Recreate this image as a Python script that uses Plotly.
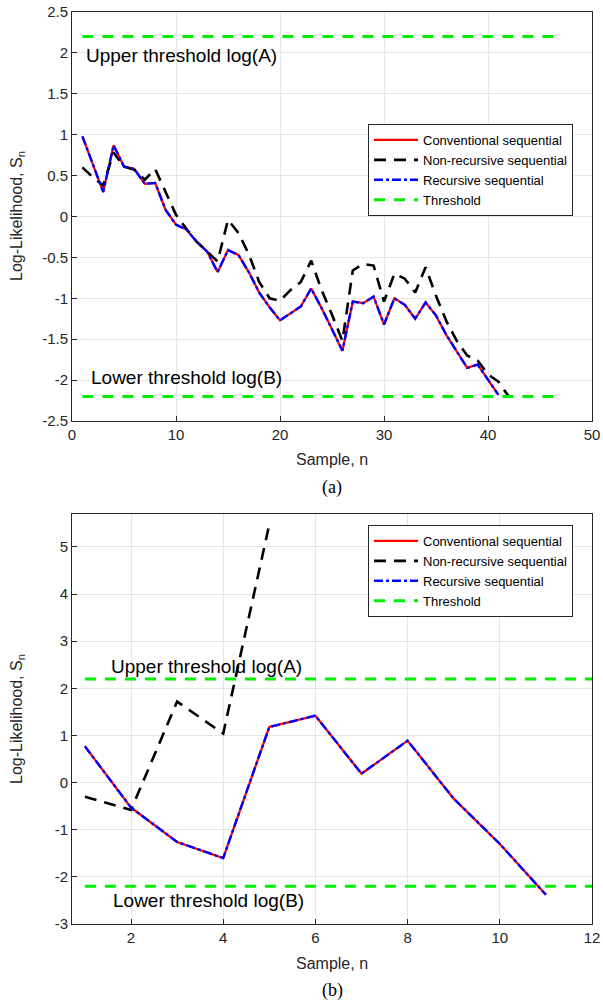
import plotly.graph_objects as go

# ---------------- data ----------------
# (a) top panel
n_a = list(range(1, 42))
conv_a = [0.98, 0.63, 0.30, 0.87, 0.61, 0.58, 0.40, 0.41, 0.08, -0.10,
          -0.16, -0.31, -0.43, -0.68, -0.41, -0.47, -0.68, -0.93, -1.11, -1.27,
          -1.18, -1.10, -0.88, -1.12, -1.38, -1.64, -1.04, -1.06, -0.98, -1.32,
          -1.00, -1.08, -1.25, -1.05, -1.21, -1.45, -1.65, -1.85, -1.81, -1.99,
          -2.18]
rec_a = list(conv_a)
n_nonrec_a = list(range(1, 43))
nonrec_a = [0.60, 0.48, 0.38, 0.78, 0.61, 0.57, 0.45, 0.58, 0.30, 0.02,
            -0.15, -0.31, -0.43, -0.55, -0.04, -0.20, -0.46, -0.80, -1.00, -1.03,
            -0.90, -0.80, -0.54, -0.90, -1.20, -1.52, -0.66, -0.58, -0.60, -1.04,
            -0.70, -0.76, -0.93, -0.62, -0.97, -1.28, -1.52, -1.70, -1.76, -1.93,
            -2.02, -2.20]
thr_x_a = [1, 47]

# (b) bottom panel
n_b = list(range(1, 12))
conv_b = [0.77, -0.53, -1.26, -1.60, 1.18, 1.42, 0.19, 0.89, -0.34, -1.30, -2.38]
rec_b = list(conv_b)
n_nonrec_b = [1, 2, 3, 4, 5]
nonrec_b = [-0.30, -0.58, 1.72, 1.04, 5.48]
thr_x_b = [1, 12]

upper_thr = 2.2
lower_thr = -2.2

names = ["Conventional sequential", "Non-recursive sequential",
         "Recursive sequential", "Threshold"]

xticks_a = [0, 10, 20, 30, 40, 50]
yticks_a = [-2.5, -2, -1.5, -1, -0.5, 0, 0.5, 1, 1.5, 2, 2.5]
ytext_a = ["-2.5", "-2", "-1.5", "-1", "-0.5", "0", "0.5", "1", "1.5", "2", "2.5"]
xticks_b = [2, 4, 6, 8, 10, 12]
yticks_b = [-3, -2, -1, 0, 1, 2, 3, 4, 5]
ytext_b = ["-3", "-2", "-1", "0", "1", "2", "3", "4", "5"]

# ---------------- figure ----------------
W, H = 603, 1004
FONT = "Liberation Sans, Arial, sans-serif"
TXT = "#262626"

fig = go.Figure()


def add_panel(xa, ya, legend, nx, conv, nnr, nonrec, rec, thrx):
    fig.add_trace(go.Scatter(x=nx, y=conv, mode="lines", name=names[0],
                             line=dict(color="#ff0000", width=2.2),
                             xaxis=xa, yaxis=ya, legend=legend))
    fig.add_trace(go.Scatter(x=nnr, y=nonrec, mode="lines", name=names[1],
                             line=dict(color="#000000", width=2.6, dash="12px,8px"),
                             xaxis=xa, yaxis=ya, legend=legend))
    fig.add_trace(go.Scatter(x=nx, y=rec, mode="lines", name=names[2],
                             line=dict(color="#0000ff", width=2.4, dash="9px,3px,3px,3px"),
                             xaxis=xa, yaxis=ya, legend=legend))
    fig.add_trace(go.Scatter(x=[thrx[0], thrx[1], None, thrx[0], thrx[1]],
                             y=[upper_thr, upper_thr, None, lower_thr, lower_thr],
                             mode="lines", name=names[3],
                             line=dict(color="#00ee00", width=3, dash="11px,9px"),
                             xaxis=xa, yaxis=ya, legend=legend))


add_panel("x", "y", "legend", n_a, conv_a, n_nonrec_a, nonrec_a, rec_a, thr_x_a)
add_panel("x2", "y2", "legend2", n_b, conv_b, n_nonrec_b, nonrec_b, rec_b, thr_x_b)

xdom = [72 / W, 592 / W]
ydom_a = [1 - 421 / H, 1 - 12 / H]
ydom_b = [1 - 924 / H, 1 - 514 / H]

axis_common = dict(showline=True, mirror=True, linecolor=TXT, linewidth=1,
                   ticks="inside", ticklen=5, tickcolor=TXT,
                   showgrid=True, gridcolor="#e6e6e6", gridwidth=1,
                   zeroline=False, automargin=False,
                   tickfont=dict(family=FONT, size=15, color=TXT))

legend_common = dict(bgcolor="white", bordercolor=TXT, borderwidth=1,
                     font=dict(family=FONT, size=13, color="#000000"),
                     xanchor="right", yanchor="top", tracegroupgap=0,
                     itemwidth=44)

fig.update_layout(
    width=W, height=H,
    margin=dict(l=0, r=0, t=0, b=0),
    paper_bgcolor="white", plot_bgcolor="white",
    font=dict(family=FONT, size=15, color=TXT),
    xaxis=dict(domain=xdom, range=[0, 50], tickvals=xticks_a, anchor="y", **axis_common),
    yaxis=dict(domain=ydom_a, range=[-2.5, 2.5], tickvals=yticks_a, ticktext=ytext_a,
               anchor="x", **axis_common),
    xaxis2=dict(domain=xdom, range=[0.72, 12], tickvals=xticks_b, anchor="y2", **axis_common),
    yaxis2=dict(domain=ydom_b, range=[-3.0, 5.7], tickvals=yticks_b, ticktext=ytext_b,
                anchor="x2", **axis_common),
    legend=dict(x=573 / W, y=1 - 124 / H, **legend_common),
    legend2=dict(x=573 / W, y=1 - 525 / H, **legend_common),
)

ann_font = dict(family=FONT, size=19, color="#000000")
annotations = [
    # threshold labels (panel a)
    dict(x=1.2, y=1.97, xref="x", yref="y", text="Upper threshold log(A)",
         showarrow=False, xanchor="left", yanchor="middle", font=ann_font),
    dict(x=1.6, y=-1.97, xref="x", yref="y", text="Lower threshold log(B)",
         showarrow=False, xanchor="left", yanchor="middle", font=ann_font),
    # threshold labels (panel b)
    dict(x=1.52, y=2.46, xref="x2", yref="y2", text="Upper threshold log(A)",
         showarrow=False, xanchor="left", yanchor="middle", font=ann_font),
    dict(x=1.56, y=-2.51, xref="x2", yref="y2", text="Lower threshold log(B)",
         showarrow=False, xanchor="left", yanchor="middle", font=ann_font),
    # axis titles
    dict(x=17 / W, y=1 - 216 / H, xref="paper", yref="paper",
         text="Log-Likelihood, S<sub>n</sub>", textangle=-90, showarrow=False,
         xanchor="center", yanchor="middle", font=dict(family=FONT, size=16, color=TXT)),
    dict(x=17 / W, y=1 - 719 / H, xref="paper", yref="paper",
         text="Log-Likelihood, S<sub>n</sub>", textangle=-90, showarrow=False,
         xanchor="center", yanchor="middle", font=dict(family=FONT, size=16, color=TXT)),
    dict(x=332 / W, y=1 - 459 / H, xref="paper", yref="paper", text="Sample, n",
         showarrow=False, xanchor="center", yanchor="middle",
         font=dict(family=FONT, size=16, color=TXT)),
    dict(x=332 / W, y=1 - 963 / H, xref="paper", yref="paper", text="Sample, n",
         showarrow=False, xanchor="center", yanchor="middle",
         font=dict(family=FONT, size=16, color=TXT)),
    # panel captions
    dict(x=332 / W, y=1 - 487 / H, xref="paper", yref="paper", text="(a)",
         showarrow=False, xanchor="center", yanchor="middle",
         font=dict(family="Liberation Serif, Times New Roman, serif", size=18, color="#000000")),
    dict(x=332 / W, y=1 - 990 / H, xref="paper", yref="paper", text="(b)",
         showarrow=False, xanchor="center", yanchor="middle",
         font=dict(family="Liberation Serif, Times New Roman, serif", size=18, color="#000000")),
]
fig.update_layout(annotations=annotations)

fig.write_html("out.html")
